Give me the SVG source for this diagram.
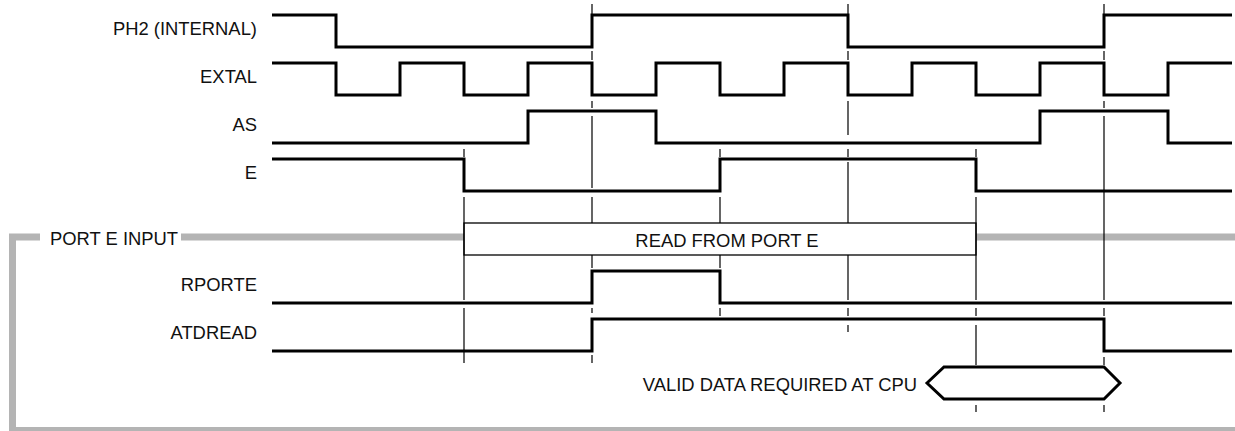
<svg xmlns="http://www.w3.org/2000/svg" width="1235" height="431" viewBox="0 0 1235 431">
<style>
text{font-family:"Liberation Sans",Arial,sans-serif;font-size:18.4px;fill:#111}
.lbl{text-anchor:end}
.sig{fill:none;stroke:#000;stroke-width:3;stroke-linejoin:miter}
.grid{fill:none;stroke:#000;stroke-width:1.2}
.frame{fill:none;stroke:#b4b4b4;stroke-width:7}
</style>
<rect width="1235" height="431" fill="#fff"/>
<g id="frame">
<path class="frame" d="M40 237H12.5V430.5H1235M181 237H1235"/>
<text x="50" y="245">PORT E INPUT</text>
</g>
<g id="ph2">
<text class="lbl" x="257" y="35">PH2 (INTERNAL)</text>
<path class="sig" d="M272 15H336V47H592V15H848V47H1104V15H1232"/>
</g>
<g id="extal">
<text class="lbl" x="257" y="83">EXTAL</text>
<path class="sig" d="M272 63H336V95H400V63H464V95H528V63H592V95H656V63H720V95H784V63H848V95H912V63H976V95H1040V63H1104V95H1168V63H1232"/>
</g>
<g id="as">
<text class="lbl" x="257" y="131">AS</text>
<path class="sig" d="M272 143H528V111H656V143H1040V111H1168V143H1232"/>
</g>
<g id="e">
<text class="lbl" x="257" y="179">E</text>
<path class="sig" d="M272 159H464V191H720V159H976V191H1232"/>
</g>
<g id="read-box">
<rect x="464" y="223" width="512" height="32" fill="#fff" stroke="#000" stroke-width="1.3"/>
<text x="727" y="247" text-anchor="middle">READ FROM PORT E</text>
</g>
<g id="rporte">
<text class="lbl" x="257" y="291">RPORTE</text>
<path class="sig" d="M272 303H592V271H720V303H1232"/>
</g>
<g id="atdread">
<text class="lbl" x="257" y="339">ATDREAD</text>
<path class="sig" d="M272 351H592V319H1104V351H1232"/>
</g>
<g id="valid-data">
<text x="917" y="391" text-anchor="end">VALID DATA REQUIRED AT CPU</text>
<path class="sig" d="M927 383L944 367H1104L1120 383L1104 399H944Z" fill="#fff"/>
</g>
<g id="connectors">
<path class="grid" d="M464 149V157M464 197V300M464 308V363"/>
<path class="grid" d="M592 4V14M592 51V60M592 101V108M592 116V188M592 197V223M592 255V268M592 308V313M592 355V363"/>
<path class="grid" d="M720 149V157M720 197V223M720 255V268M720 308V316"/>
<path class="grid" d="M848 4V14M848 51V60M848 101V135M848 149V157M848 162V223M848 255V300M848 308V316M848 325V332"/>
<path class="grid" d="M976 149V157M976 197V300M976 308V316M976 325V365M976 405V412"/>
<path class="grid" d="M1104 4V14M1104 51V60M1104 101V108M1104 116V300M1104 308V316M1104 357V365M1104 405V412"/>
</g>
</svg>
